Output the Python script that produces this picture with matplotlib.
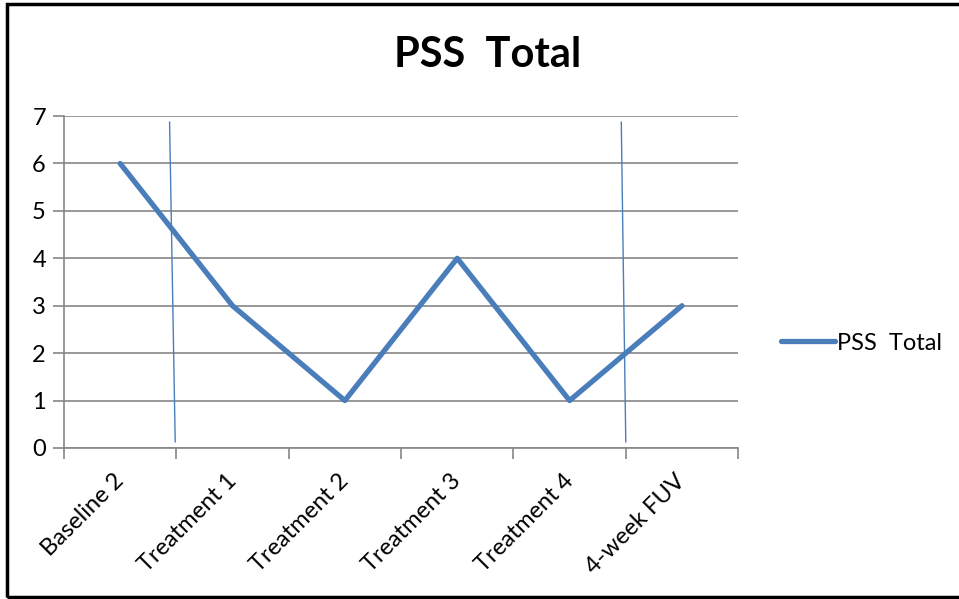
import matplotlib
matplotlib.use('Agg')
from matplotlib import pyplot as plt
from matplotlib.patches import Rectangle
from matplotlib.transforms import ScaledTranslation

categories = ['Baseline 2', 'Treatment 1', 'Treatment 2', 'Treatment 3', 'Treatment 4', '4-week FUV']
pss_total = [6, 3, 1, 4, 1, 3]
# phase change lines (slightly slanted, as hand drawn in the original)
phase_x_top = [0.44, 4.46]
phase_x_bottom = [0.49, 4.50]
phase_y = [6.87, 0.13]

plt.rcParams['font.family'] = ['Lato', 'DejaVu Sans']
blue = '#4A7EBB'
grid = '#868686'

fig = plt.figure(figsize=(9.59, 5.99), dpi=100)
ax = fig.add_axes([0.0667, 0.2521, 0.7030, 0.5542])

ax.plot(range(len(categories)), pss_total, color=blue, lw=3.8,
        solid_capstyle='round', solid_joinstyle='round', label='PSS  Total', zorder=3)
for xt, xb in zip(phase_x_top, phase_x_bottom):
    ax.plot([xt, xb], phase_y, color=blue, lw=1.0, zorder=2)

ax.set_xlim(-0.5, len(categories) - 0.5)
ax.set_ylim(0, 7)
ax.set_yticks(range(8))
ax.yaxis.grid(True, color=grid, lw=1.2)
ax.set_axisbelow(True)

ax.set_xticks([i - 0.5 for i in range(len(categories) + 1)], minor=False)
ax.set_xticklabels([])
ax.set_xticks(range(len(categories)), minor=True)
ax.set_xticklabels(categories, minor=True, rotation=45, ha='right',
                   rotation_mode='anchor', fontsize=17)
ax.tick_params(axis='x', which='minor', length=0, pad=16)
ax.tick_params(axis='x', which='major', length=8, width=1.2, color=grid)
ax.tick_params(axis='y', length=8, width=1.2, color=grid, labelsize=17, pad=5)
shift = ScaledTranslation(-7 / 100, 0, fig.dpi_scale_trans)
for lab in ax.get_xticklabels(minor=True):
    lab.set_transform(lab.get_transform() + shift)

for s in ['top', 'right']:
    ax.spines[s].set_visible(False)
for s in ['left', 'bottom']:
    ax.spines[s].set_color(grid)
    ax.spines[s].set_linewidth(1.2)

fig.text(0.508, 0.908, 'PSS  Total', ha='center', va='center', fontsize=30, fontweight='bold')

fig.legend(loc='center left', bbox_to_anchor=(0.792, 0.427), frameon=False,
           fontsize=17, handlelength=2.3, handletextpad=0.1)

fig.patches.append(Rectangle((0.007, 0.004), 1.2, 0.99, transform=fig.transFigure,
                             fill=False, edgecolor='black', lw=2.5))

fig.savefig('out.png', dpi=100)
